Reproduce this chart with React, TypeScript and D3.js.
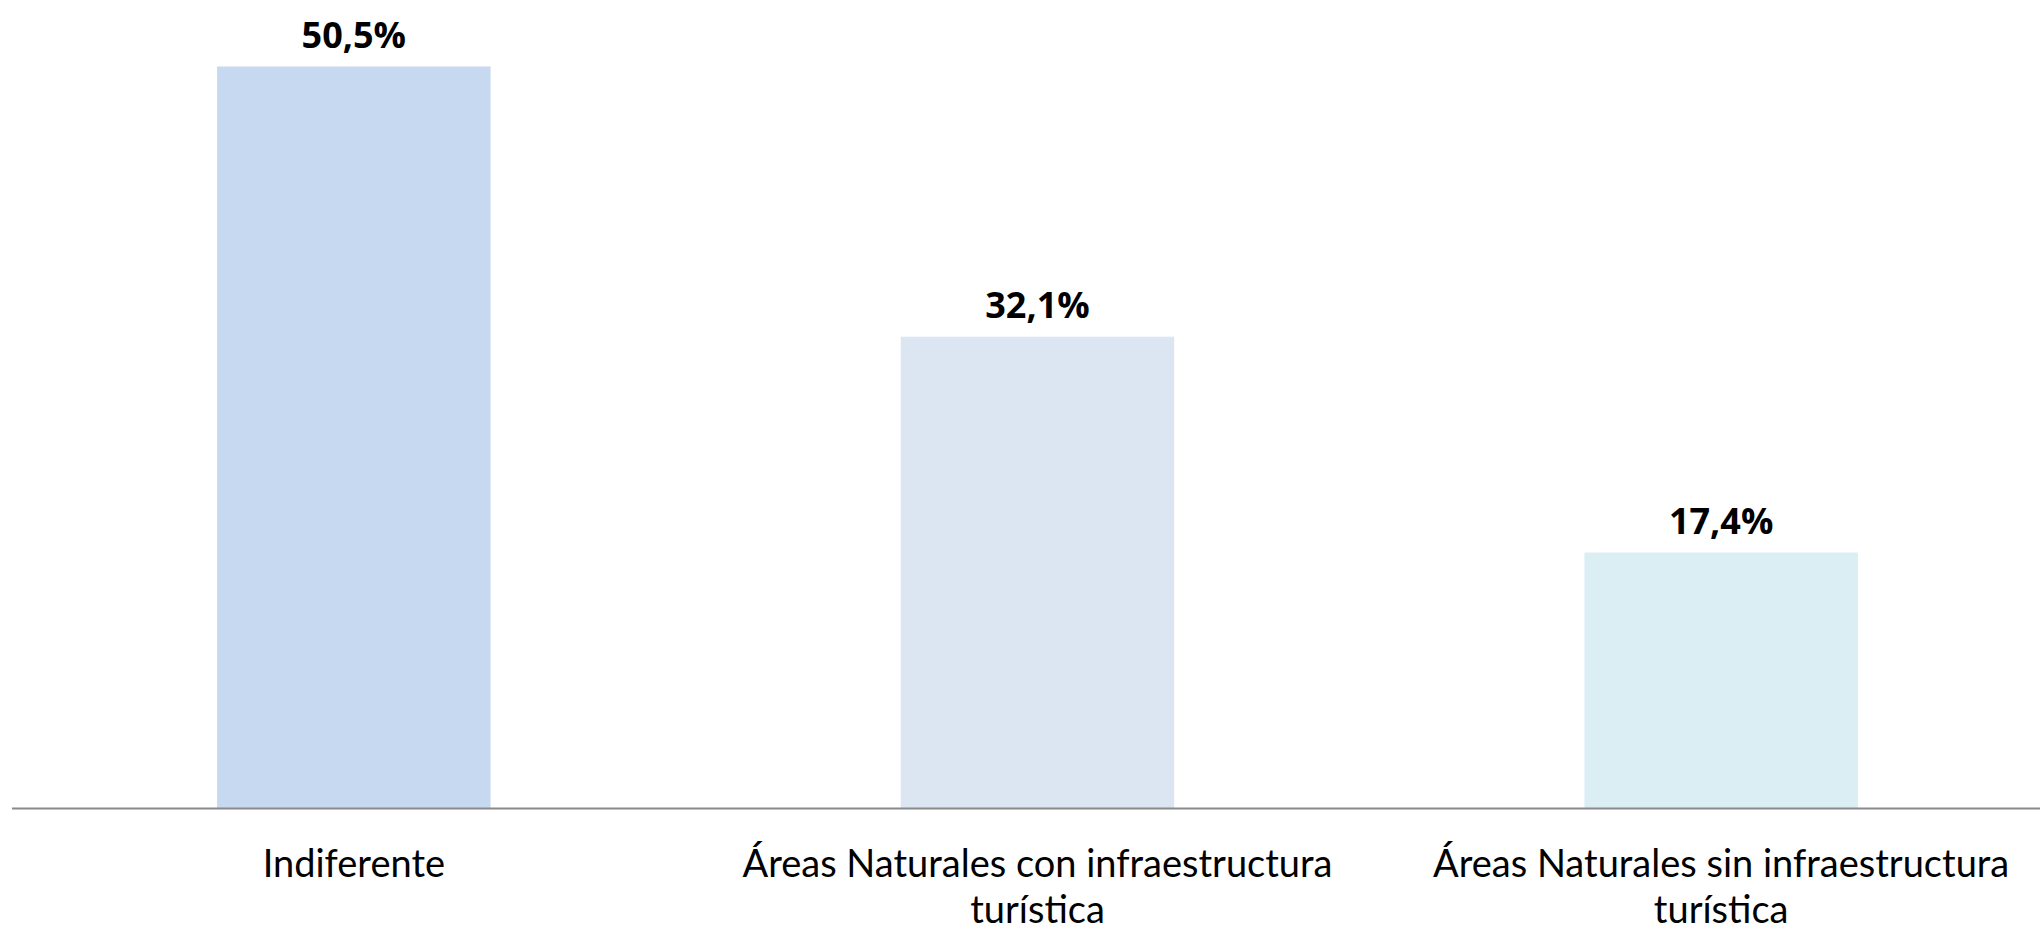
import React from "react";
import * as d3 from "d3";

const categories: string[][] = [
  ["Indiferente"],
  ["Áreas Naturales con infraestructura", "turística"],
  ["Áreas Naturales sin infraestructura", "turística"],
];
const values: number[] = [50.5, 32.1, 17.4];
const valueLabels: string[] = ["50,5%", "32,1%", "17,4%"];
const colors: string[] = ["#C6D9F1", "#DCE6F2", "#DBEEF4"];

const W = 2040;
const H = 932;

export default function App() {
  const ids = categories.map((_, i) => String(i));
  const x = d3.scaleBand<string>().domain(ids).range([12, 2063]).paddingInner(0.6).paddingOuter(0.3);
  const y = d3.scaleLinear().domain([0, 50.5]).range([808, 66.5]);
  const lineH = 46;
  return (
    <svg width={W} height={H} style={{ position: "absolute", left: 0, top: 0, background: "#fff" }}>
      {values.map((v, i) => (
        <rect key={"b" + i} x={x(ids[i])} y={y(v)} width={x.bandwidth()} height={y(0) - y(v)} fill={colors[i]} />
      ))}
      <line x1={12} x2={W} y1={y(0) + 0.5} y2={y(0) + 0.5} stroke="#898989" strokeWidth={2} />
      {values.map((v, i) => (
        <text
          key={"v" + i}
          x={(x(ids[i]) as number) + x.bandwidth() / 2}
          y={y(v) - 19}
          textAnchor="middle"
          fontFamily="'Open Sans', sans-serif"
          fontWeight={700}
          fontSize={36}
          fill="#000"
        >
          {valueLabels[i]}
        </text>
      ))}
      {categories.map((lines, i) => (
        <text
          key={"c" + i}
          textAnchor="middle"
          fontFamily="Lato, sans-serif"
          fontSize={38}
          fill="#000"
        >
          {lines.map((l, j) => (
            <tspan key={j} x={(x(ids[i]) as number) + x.bandwidth() / 2} y={877 + j * lineH}>
              {l}
            </tspan>
          ))}
        </text>
      ))}
    </svg>
  );
}
